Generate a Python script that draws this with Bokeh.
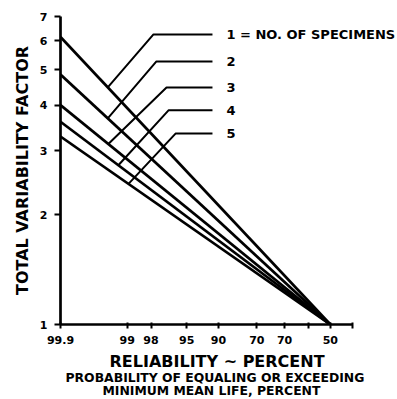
import math
from statistics import NormalDist

from bokeh.core.properties import value
from bokeh.embed import file_html
from bokeh.models import FixedTicker, Range1d, Title
from bokeh.plotting import figure
from bokeh.resources import INLINE

# Total variability factor vs. reliability, one line per number of specimens
specimens = [1, 2, 3, 4, 5]
factor_at_high = [6.15, 4.85, 4.0, 3.6, 3.28]   # factor at 99.9 % reliability
factor_at_low = [1.0, 1.0, 1.0, 1.0, 1.0]       # factor at 50 % reliability
rel_high = 99.9
rel_low = 50.0

# reliability axis (normal-probability scale)
axis_rel_left = 99.9
axis_rel_right = 40.0
x_tick_rel = [99.9, 99, 98, 95, 90, 80, 70, 60, 50, 40]
x_tick_text = ["99.9", "99", "98", "95", "90", "70", "70", "", "50", ""]
y_tick_vals = [1, 2, 3, 4, 5, 6, 7]

# callout leaders: point on the curve, elbow, end of the horizontal run
leader_tip_rel = [99.46, 99.46, 99.45, 99.24, 98.96]
leader_elbow_rel = [97.86, 97.68, 96.97, 96.81, 96.19]
leader_elbow_val = [6.25, 5.27, 4.47, 3.87, 3.34]
leader_end_rel = 91.15
label_rel = 88.3
label_text = ["1 = NO. OF SPECIMENS", "2", "3", "4", "5"]

# x axis title, three lines
x_title_lines = ["RELIABILITY ~ PERCENT",
                 "PROBABILITY OF EQUALING OR EXCEEDING",
                 "MINIMUM MEAN LIFE, PERCENT"]

nd = NormalDist()


def probit(r):
    """Position on the normal-probability reliability scale."""
    return nd.inv_cdf(1.0 - r / 100.0)


def factor_on_line(k, r):
    """Factor of line k at reliability r (straight on log / probit paper)."""
    x0, x1 = probit(rel_high), probit(rel_low)
    l0, l1 = math.log10(factor_at_high[k]), math.log10(factor_at_low[k])
    t = (probit(r) - x0) / (x1 - x0)
    return 10 ** (l0 + t * (l1 - l0))


x_left = probit(axis_rel_left)
x_right_axis = probit(axis_rel_right)
# extra room to the right of the axis for the callout text
x_right = x_right_axis + (x_right_axis - x_left) * 45.0 / 292.0

FONT = "DejaVu Sans"

p = figure(
    width=397, height=399,
    x_range=Range1d(x_left, x_right),
    y_range=Range1d(1, 7),
    y_axis_type="log",
    output_backend="svg",
    toolbar_location=None,
    min_border_left=60, min_border_right=0,
    min_border_top=16, min_border_bottom=75,
)
p.outline_line_color = None
p.grid.visible = False
p.background_fill_color = "white"
p.border_fill_color = "white"

# curves
for k in range(len(specimens)):
    p.line([probit(rel_high), probit(rel_low)],
           [factor_at_high[k], factor_at_low[k]],
           line_color="black", line_width=2.7)

# callout leaders and their labels
for k in range(len(specimens)):
    xs = [probit(leader_tip_rel[k]), probit(leader_elbow_rel[k]), probit(leader_end_rel)]
    ys = [factor_on_line(k, leader_tip_rel[k]), leader_elbow_val[k], leader_elbow_val[k]]
    p.line(xs, ys, line_color="black", line_width=2.0)

p.text(x=[probit(label_rel)] * len(specimens), y=leader_elbow_val, text=label_text,
       text_font=value(FONT), text_font_style="bold", text_font_size="13px",
       text_baseline="middle", text_align="left", text_color="black")

# x axis
xa = p.xaxis[0]
xa.bounds = (x_left, x_right_axis)
xa.ticker = FixedTicker(ticks=[probit(r) for r in x_tick_rel])
xa.major_label_overrides = {probit(r): t for r, t in zip(x_tick_rel, x_tick_text)}
xa.minor_tick_line_color = None
xa.axis_line_width = 2.7
xa.major_tick_line_width = 2
xa.major_tick_in = 2
xa.major_tick_out = 4
xa.major_label_standoff = 7
xa.major_label_text_font = FONT
xa.major_label_text_font_style = "bold"
xa.major_label_text_font_size = "11px"
xa.major_label_text_color = "black"

# y axis
ya = p.yaxis[0]
ya.bounds = (1, 7)
ya.ticker = FixedTicker(ticks=y_tick_vals)
ya.major_label_overrides = {v: str(v) for v in y_tick_vals}
ya.minor_tick_line_color = None
ya.axis_line_width = 2.7
ya.major_tick_line_width = 2
ya.major_tick_in = 0
ya.major_tick_out = 6
ya.major_label_standoff = 7
ya.major_label_text_font = FONT
ya.major_label_text_font_style = "bold"
ya.major_label_text_font_size = "11px"
ya.major_label_text_color = "black"
ya.axis_label = "TOTAL VARIABILITY FACTOR"
ya.axis_label_standoff = 5
ya.axis_label_text_font = FONT
ya.axis_label_text_font_style = "bold"
ya.axis_label_text_font_size = "16px"
ya.axis_label_text_color = "black"

# x axis title lines (left aligned, shifted so they sit centred under the axis)
for text, size, standoff, offset in zip(x_title_lines, ["16px", "12.4px", "12.4px"],
                                        [6, -12, 4], [49, 5, 42]):
    p.add_layout(Title(text=text, align="left", offset=offset, standoff=standoff,
                       text_font=FONT, text_font_style="bold",
                       text_font_size=size, text_color="black"), "below")

open("out.html", "w").write(file_html(p, INLINE))
